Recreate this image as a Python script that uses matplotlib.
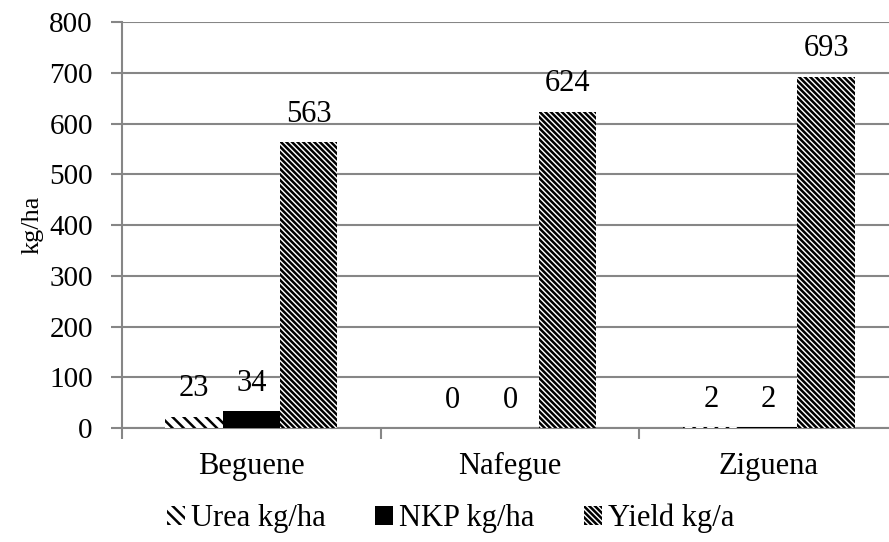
import numpy as np
import matplotlib.pyplot as plt

plt.rcParams['font.family'] = ['Liberation Serif', 'DejaVu Serif']
plt.rcParams['hatch.linewidth'] = 1.8

villages = ["Beguene", "Nafegue", "Ziguena"]
urea = [23, 0, 2]
nkp = [34, 0, 2]
yield_kg = [563, 624, 693]

fig = plt.figure(figsize=(8.89, 5.42), dpi=100)
# plot area runs a little past the right edge of the canvas
ax = fig.add_axes([0.1372, 0.21, 0.873, 0.749])

x = np.arange(len(villages))
w = 0.222
grey = '#868686'

b1 = ax.bar(x - w, urea, w, color='white', edgecolor='black', hatch='\\\\\\', linewidth=0, label='Urea kg/ha', zorder=3)
b2 = ax.bar(x, nkp, w, color='black', linewidth=0, label='NKP kg/ha', zorder=3)
b3 = ax.bar(x + w, yield_kg, w, color='white', edgecolor='black', hatch='\\\\\\\\\\\\', linewidth=0, label='Yield kg/a', zorder=3)

for bars, vals in [(b1, urea), (b2, nkp), (b3, yield_kg)]:
    for r, v in zip(bars, vals):
        ax.text(r.get_x() + r.get_width() / 2, v + 26, str(v), ha='center', va='bottom', fontsize=22)

ax.set_xlim(-0.5, 2.5)
ax.set_ylim(0, 800)
ax.set_yticks(range(0, 801, 100))
ax.set_xticks(x)
ax.set_xticklabels(villages)
ax.set_xticks([-0.5, 0.5, 1.5, 2.5], minor=True)
ax.tick_params(axis='x', which='major', length=0, pad=17, labelsize=22)
ax.tick_params(axis='x', which='minor', length=8, color=grey, width=1.5)
ax.tick_params(axis='y', length=8, color=grey, width=1.5, labelsize=21, pad=13)
ax.set_ylabel('kg/ha', fontsize=19, labelpad=4)

ax.yaxis.grid(True, color=grey, linewidth=1.5, zorder=0)
ax.set_axisbelow(True)
for s in ['top', 'right']:
    ax.spines[s].set_visible(False)
for s in ['left', 'bottom']:
    ax.spines[s].set_color(grey)
    ax.spines[s].set_linewidth(1.5)

fig.legend(handles=[b1, b2, b3], loc='lower center', bbox_to_anchor=(0.507, -0.035), ncol=3, frameon=False,
           fontsize=22, handlelength=0.6, handleheight=0.6, handletextpad=0.2, columnspacing=1.6)

fig.savefig('out.png', dpi=100)
